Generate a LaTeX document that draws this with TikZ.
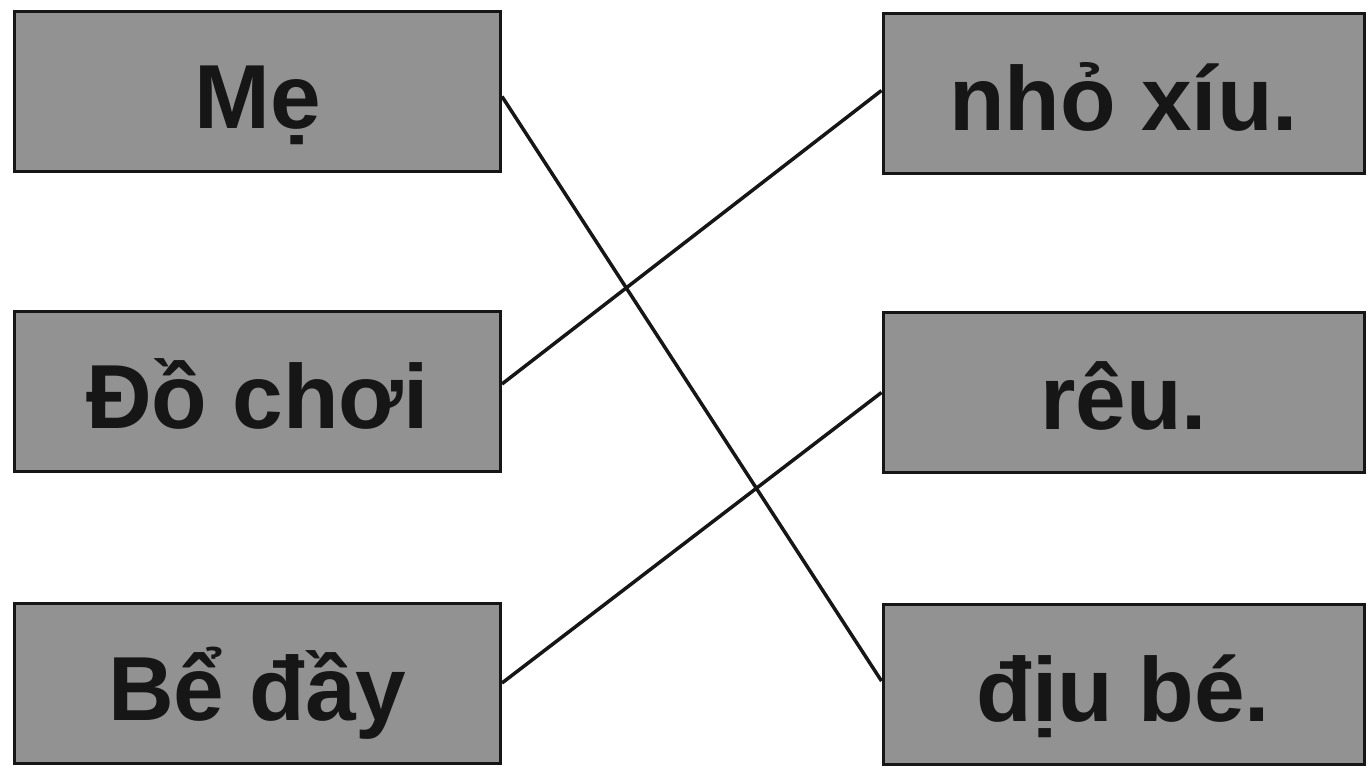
\documentclass[tikz,border=0pt]{standalone}
\usepackage{fontspec}
\setmainfont{Liberation Sans}
\definecolor{boxgray}{RGB}{146,146,146}
\definecolor{ink}{RGB}{22,22,22}
\begin{document}
\begin{tikzpicture}[x=1pt,y=-1pt,
  box/.style={draw=ink, line width=3pt, fill=boxgray, inner sep=0pt,
    minimum height=160pt, text height=74pt, text depth=0pt,
    font=\fontsize{91}{100}\selectfont\bfseries, text=ink},
  leftbox/.style={box, minimum width=486pt},
  rightbox/.style={box, minimum width=481pt},
  link/.style={line width=3.5pt, draw=ink}]
\useasboundingbox (0,0) rectangle (1367,767);
\node[leftbox] (me) at (257.5,91.5) {Mẹ};
\node[leftbox] (dochoi) at (257.5,391) {Đồ chơi};
\node[leftbox] (beday) at (257.5,683) {Bể đầy};
\node[rightbox] (nhoxiu) at (1123.5,93.5) {nhỏ xíu.};
\node[rightbox] (reu) at (1123.5,392.5) {rêu.};
\node[rightbox] (diube) at (1123.5,684) {địu bé.};
\draw[link] ([yshift=-5pt]me.east) -- ([yshift=3pt]diube.west);
\draw[link] ([yshift=7pt]dochoi.east) -- ([yshift=3pt]nhoxiu.west);
\draw[link] (beday.east) -- (reu.west);
\end{tikzpicture}
\end{document}
